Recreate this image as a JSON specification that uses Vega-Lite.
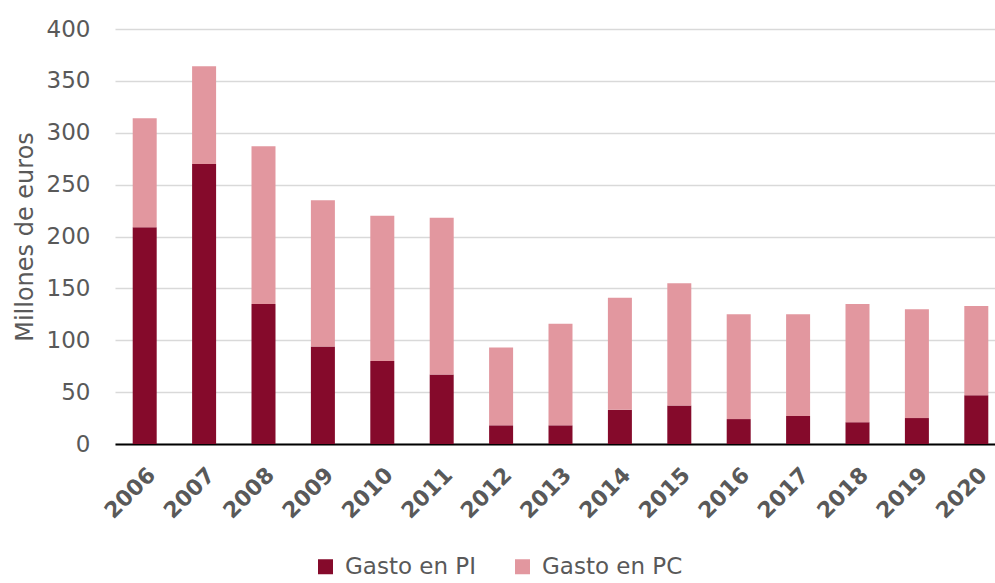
{
  "$schema": "https://vega.github.io/schema/vega-lite/v6.json",
  "width": 880,
  "height": 415,
  "autosize": {"type": "none"},
  "padding": {"left": 115, "top": 29, "right": 0, "bottom": 139},
  "background": "white",
  "config": {
    "view": {"stroke": null},
    "font": "DejaVu Sans"
  },
  "data": {
    "values": [
      {"year": "2006", "serie": "Gasto en PI", "value": 209},
      {"year": "2006", "serie": "Gasto en PC", "value": 105},
      {"year": "2007", "serie": "Gasto en PI", "value": 270},
      {"year": "2007", "serie": "Gasto en PC", "value": 94},
      {"year": "2008", "serie": "Gasto en PI", "value": 135},
      {"year": "2008", "serie": "Gasto en PC", "value": 152},
      {"year": "2009", "serie": "Gasto en PI", "value": 94},
      {"year": "2009", "serie": "Gasto en PC", "value": 141},
      {"year": "2010", "serie": "Gasto en PI", "value": 80},
      {"year": "2010", "serie": "Gasto en PC", "value": 140},
      {"year": "2011", "serie": "Gasto en PI", "value": 67},
      {"year": "2011", "serie": "Gasto en PC", "value": 151},
      {"year": "2012", "serie": "Gasto en PI", "value": 18},
      {"year": "2012", "serie": "Gasto en PC", "value": 75},
      {"year": "2013", "serie": "Gasto en PI", "value": 18},
      {"year": "2013", "serie": "Gasto en PC", "value": 98},
      {"year": "2014", "serie": "Gasto en PI", "value": 33},
      {"year": "2014", "serie": "Gasto en PC", "value": 108},
      {"year": "2015", "serie": "Gasto en PI", "value": 37},
      {"year": "2015", "serie": "Gasto en PC", "value": 118},
      {"year": "2016", "serie": "Gasto en PI", "value": 24},
      {"year": "2016", "serie": "Gasto en PC", "value": 101},
      {"year": "2017", "serie": "Gasto en PI", "value": 27},
      {"year": "2017", "serie": "Gasto en PC", "value": 98},
      {"year": "2018", "serie": "Gasto en PI", "value": 21},
      {"year": "2018", "serie": "Gasto en PC", "value": 114},
      {"year": "2019", "serie": "Gasto en PI", "value": 25},
      {"year": "2019", "serie": "Gasto en PC", "value": 105},
      {"year": "2020", "serie": "Gasto en PI", "value": 47},
      {"year": "2020", "serie": "Gasto en PC", "value": 86}
    ]
  },
  "mark": {"type": "bar"},
  "encoding": {
    "x": {
      "field": "year",
      "type": "ordinal",
      "scale": {"range": [0, 891], "paddingInner": 0.596, "paddingOuter": 0.298},
      "axis": {
        "title": null,
        "labelAngle": -45,
        "labelFontSize": 22,
        "labelFontWeight": "bold",
        "labelColor": "#595959",
        "labelPadding": 20,
        "ticks": false,
        "domainColor": "#000000",
        "domainWidth": 2,
        "grid": false
      }
    },
    "y": {
      "field": "value",
      "type": "quantitative",
      "stack": "zero",
      "scale": {"domain": [0, 400]},
      "axis": {
        "title": "Millones de euros",
        "titleFontSize": 24,
        "titleFontWeight": "normal",
        "titleColor": "#595959",
        "titlePadding": 9,
        "values": [0, 50, 100, 150, 200, 250, 300, 350, 400],
        "labelFontSize": 23,
        "labelColor": "#595959",
        "labelPadding": 25,
        "ticks": false,
        "domain": false,
        "gridColor": "#D9D9D9",
        "gridWidth": 1.5
      }
    },
    "color": {
      "field": "serie",
      "type": "nominal",
      "scale": {"domain": ["Gasto en PI", "Gasto en PC"], "range": ["#850A2B", "#E2979F"]},
      "legend": {
        "title": null,
        "orient": "none",
        "direction": "horizontal",
        "legendX": 199,
        "legendY": 526,
        "symbolType": "square",
        "symbolSize": 225,
        "symbolStrokeWidth": 0,
        "labelFontSize": 23,
        "labelColor": "#595959",
        "labelOffset": 8,
        "columnPadding": 35
      }
    },
    "order": {"field": "serie", "sort": "descending"}
  }
}
